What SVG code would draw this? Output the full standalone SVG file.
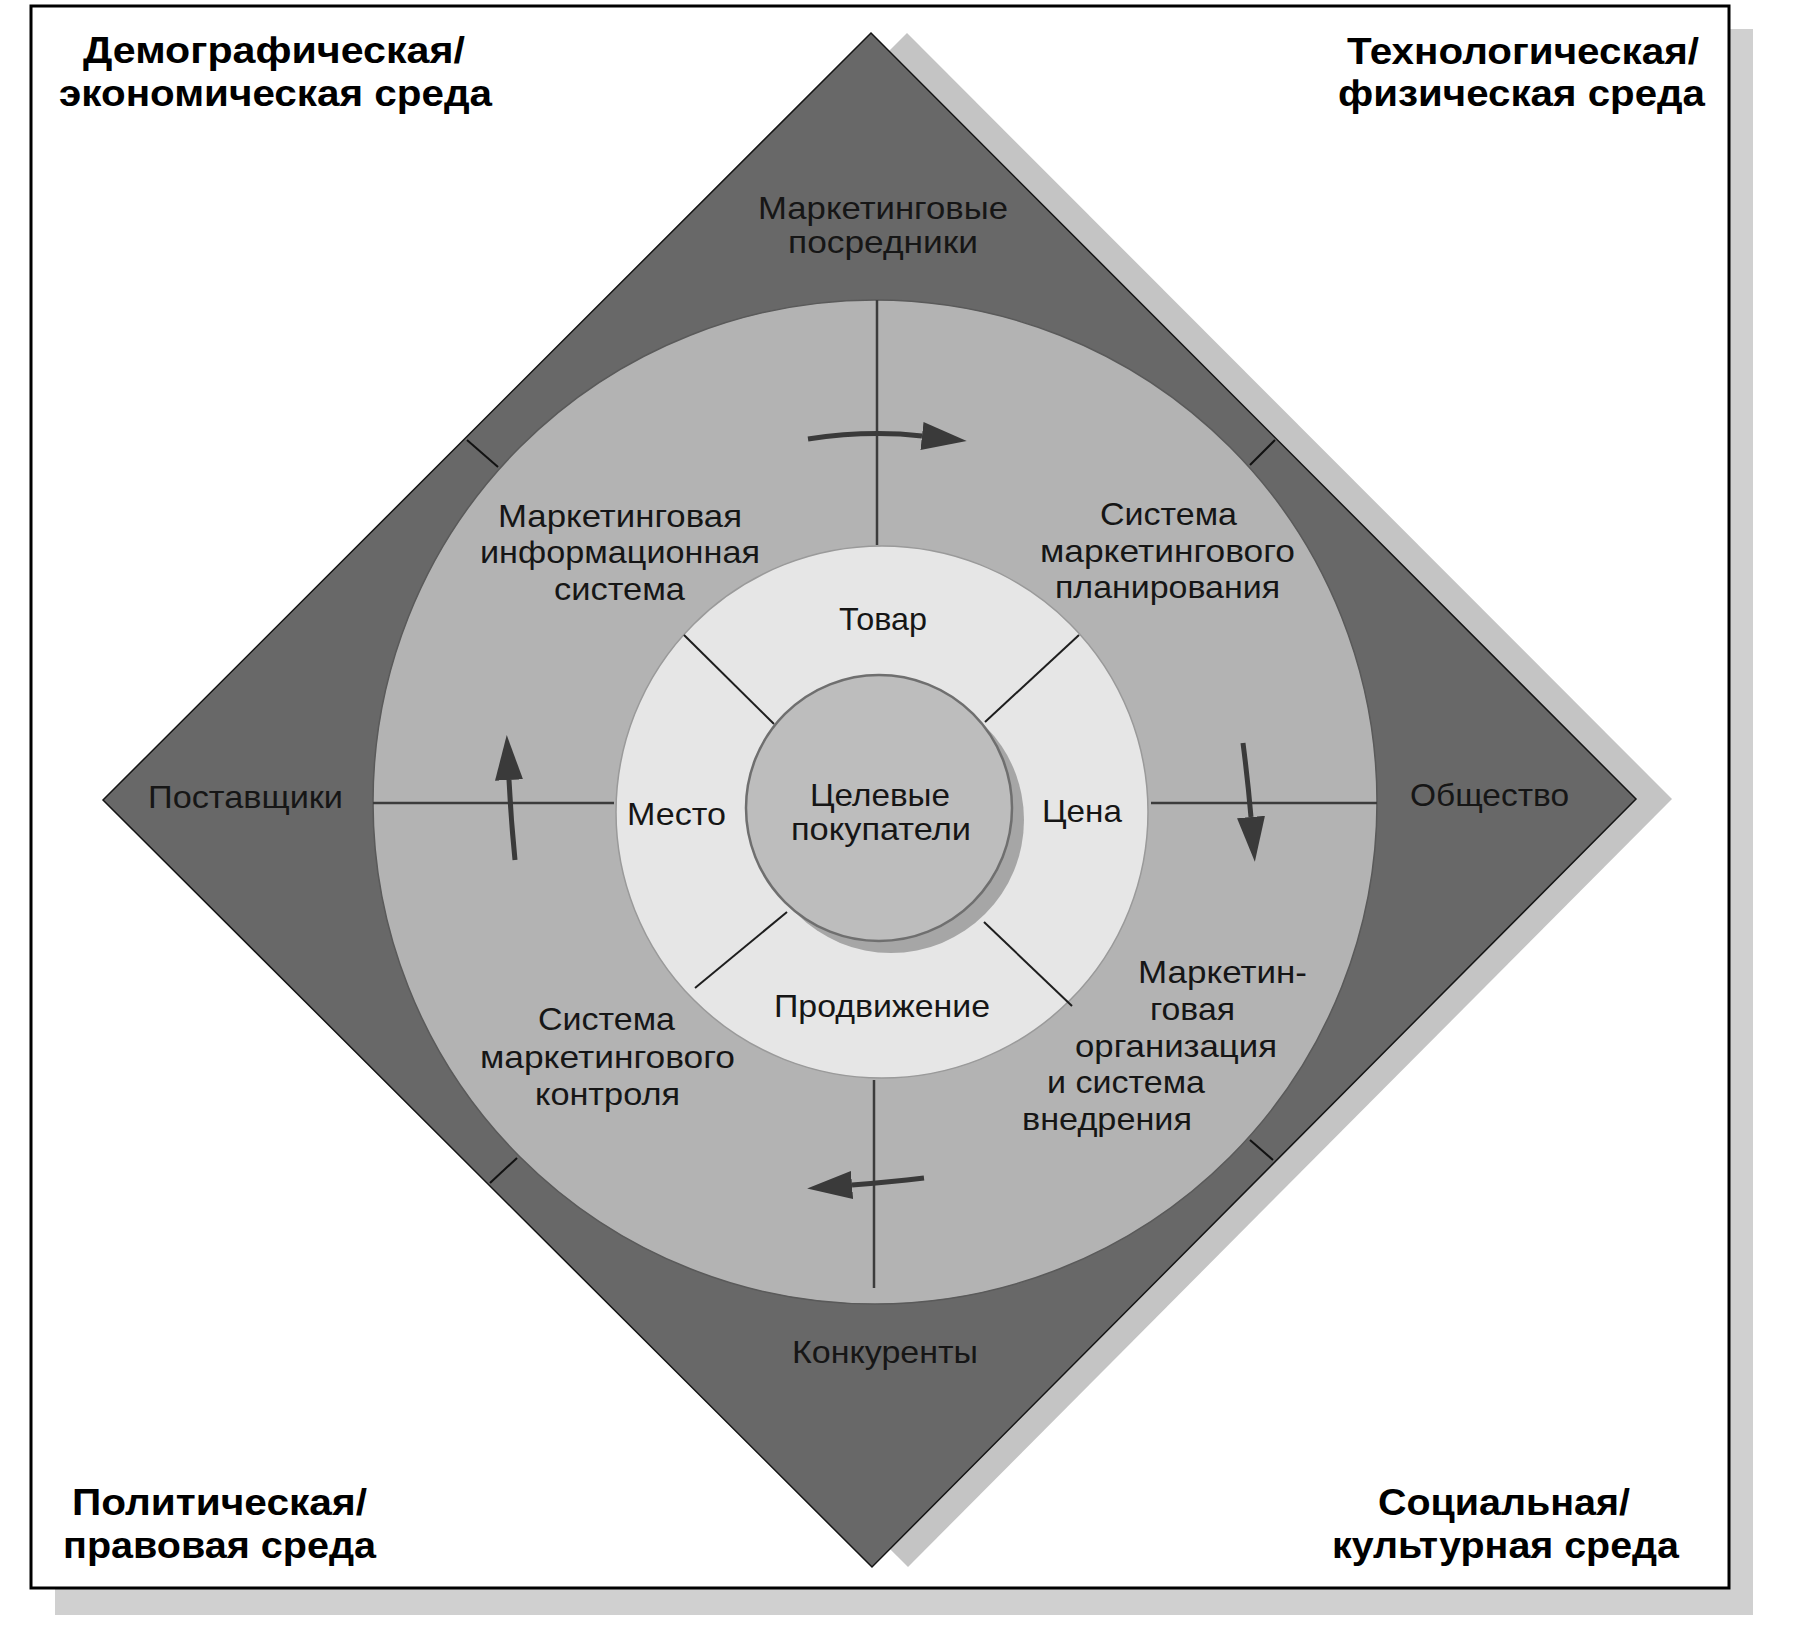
<svg xmlns="http://www.w3.org/2000/svg" width="1798" height="1630" viewBox="0 0 1798 1630">
<defs>
<style>
.bold{font-family:"Liberation Sans",Arial,sans-serif;font-weight:bold;font-size:36px;fill:#000}
.lbl{font-family:"Liberation Sans",Arial,sans-serif;font-size:32px;fill:#161616}
.div{stroke:#1e1e1e;stroke-width:2;fill:none}
.tick{stroke:#111;stroke-width:2;fill:none}
.cross{stroke:#3c3c3c;stroke-width:2.5;fill:none}
.flow{stroke:#3a3a3a;stroke-width:5;fill:none;marker-end:url(#head)}
</style>
<marker id="head" markerUnits="userSpaceOnUse" markerWidth="46" markerHeight="28" refX="0" refY="14" orient="auto" viewBox="0 0 46 28">
<path d="M0,0 L45,14 L0,28 Z" fill="#3a3a3a"/>
</marker>
</defs>
<rect x="0" y="0" width="1798" height="1630" fill="#fff"/>
<g id="frame">
<rect x="55" y="29" width="1698" height="1586" fill="#d0d0d0"/>
<rect x="31" y="6" width="1698" height="1582" fill="#fff" stroke="#000" stroke-width="3"/>
</g>
<g id="macro-environment">
<polygon points="907,33 1672,799 908,1567 139,800" fill="#c4c4c4"/>
<polygon points="871,33 1636,799 872,1567 103,800" fill="#686868" stroke="#151515" stroke-width="1.5"/>
</g>
<g id="micro-environment">
<circle cx="875" cy="802" r="502" fill="#b3b3b3" stroke="#5a5a5a" stroke-width="1.5"/>
</g>
<g id="marketing-mix">
<circle cx="882" cy="812" r="266" fill="#e6e6e6" stroke="#9a9a9a" stroke-width="1.5"/>
</g>
<g id="connectors">
<line class="cross" x1="877" y1="300" x2="877" y2="545"/>
<line class="cross" x1="874" y1="1080" x2="874" y2="1288"/>
<line class="cross" x1="373" y1="803" x2="614" y2="803"/>
<line class="cross" x1="1151" y1="803" x2="1377" y2="803"/>
<line class="div" x1="684" y1="635" x2="774" y2="724"/>
<line class="div" x1="1079" y1="635" x2="985" y2="722"/>
<line class="div" x1="695" y1="988" x2="787" y2="912"/>
<line class="div" x1="984" y1="922" x2="1072" y2="1006"/>
<line class="tick" x1="467" y1="440" x2="498" y2="467"/>
<line class="tick" x1="1275" y1="440" x2="1250" y2="465"/>
<line class="tick" x1="490" y1="1183" x2="517" y2="1158"/>
<line class="tick" x1="1273" y1="1160" x2="1250" y2="1140"/>
<path class="flow" d="M808,439 Q868,430 922,436"/>
<path class="flow" d="M1243,743 Q1248,782 1251,817"/>
<path class="flow" d="M924,1178 Q890,1182 852,1185"/>
<path class="flow" d="M515,860 Q511,820 509,780"/>
</g>
<g id="target-customers">
<circle cx="891" cy="820" r="133" fill="#a6a6a6"/>
<circle cx="879" cy="808" r="133" fill="#bdbdbd" stroke="#6f6f6f" stroke-width="2.5"/>
<text class="lbl" x="810" y="806" textLength="140" lengthAdjust="spacingAndGlyphs">Целевые</text>
<text class="lbl" x="791" y="840" textLength="180" lengthAdjust="spacingAndGlyphs">покупатели</text>
</g>
<g id="mix-labels">
<text class="lbl" x="839" y="630" textLength="88" lengthAdjust="spacingAndGlyphs">Товар</text>
<text class="lbl" x="627" y="825" textLength="99" lengthAdjust="spacingAndGlyphs">Место</text>
<text class="lbl" x="1042" y="822" textLength="80" lengthAdjust="spacingAndGlyphs">Цена</text>
<text class="lbl" x="774" y="1017" textLength="216" lengthAdjust="spacingAndGlyphs">Продвижение</text>
</g>
<g id="info-system">
<text class="lbl" x="498" y="527" textLength="244" lengthAdjust="spacingAndGlyphs">Маркетинговая</text>
<text class="lbl" x="480" y="563" textLength="280" lengthAdjust="spacingAndGlyphs">информационная</text>
<text class="lbl" x="554" y="600" textLength="131" lengthAdjust="spacingAndGlyphs">система</text>
</g>
<g id="planning-system">
<text class="lbl" x="1100" y="525" textLength="137" lengthAdjust="spacingAndGlyphs">Система</text>
<text class="lbl" x="1040" y="562" textLength="255" lengthAdjust="spacingAndGlyphs">маркетингового</text>
<text class="lbl" x="1055" y="598" textLength="225" lengthAdjust="spacingAndGlyphs">планирования</text>
</g>
<g id="control-system">
<text class="lbl" x="538" y="1030" textLength="137" lengthAdjust="spacingAndGlyphs">Система</text>
<text class="lbl" x="480" y="1068" textLength="255" lengthAdjust="spacingAndGlyphs">маркетингового</text>
<text class="lbl" x="535" y="1105" textLength="145" lengthAdjust="spacingAndGlyphs">контроля</text>
</g>
<g id="implementation-system">
<text class="lbl" x="1138" y="983" textLength="169" lengthAdjust="spacingAndGlyphs">Маркетин-</text>
<text class="lbl" x="1150" y="1020" textLength="85" lengthAdjust="spacingAndGlyphs">говая</text>
<text class="lbl" x="1075" y="1057" textLength="202" lengthAdjust="spacingAndGlyphs">организация</text>
<text class="lbl" x="1047" y="1093" textLength="158" lengthAdjust="spacingAndGlyphs">и система</text>
<text class="lbl" x="1022" y="1130" textLength="170" lengthAdjust="spacingAndGlyphs">внедрения</text>
</g>
<g id="intermediaries">
<text class="lbl" x="758" y="219" textLength="250" lengthAdjust="spacingAndGlyphs">Маркетинговые</text>
<text class="lbl" x="788" y="253" textLength="190" lengthAdjust="spacingAndGlyphs">посредники</text>
</g>
<g id="suppliers">
<text class="lbl" x="148" y="808" textLength="195" lengthAdjust="spacingAndGlyphs">Поставщики</text>
</g>
<g id="public">
<text class="lbl" x="1410" y="806" textLength="159" lengthAdjust="spacingAndGlyphs">Общество</text>
</g>
<g id="competitors">
<text class="lbl" x="792" y="1363" textLength="186" lengthAdjust="spacingAndGlyphs">Конкуренты</text>
</g>
<g id="demographic">
<text class="bold" x="83" y="63" textLength="382" lengthAdjust="spacingAndGlyphs">Демографическая/</text>
<text class="bold" x="59" y="106" textLength="433" lengthAdjust="spacingAndGlyphs">экономическая среда</text>
</g>
<g id="technological">
<text class="bold" x="1347" y="64" textLength="352" lengthAdjust="spacingAndGlyphs">Технологическая/</text>
<text class="bold" x="1338" y="106" textLength="367" lengthAdjust="spacingAndGlyphs">физическая среда</text>
</g>
<g id="political">
<text class="bold" x="72" y="1515" textLength="295" lengthAdjust="spacingAndGlyphs">Политическая/</text>
<text class="bold" x="63" y="1558" textLength="313" lengthAdjust="spacingAndGlyphs">правовая среда</text>
</g>
<g id="social">
<text class="bold" x="1378" y="1515" textLength="252" lengthAdjust="spacingAndGlyphs">Социальная/</text>
<text class="bold" x="1332" y="1558" textLength="347" lengthAdjust="spacingAndGlyphs">культурная среда</text>
</g>
</svg>
